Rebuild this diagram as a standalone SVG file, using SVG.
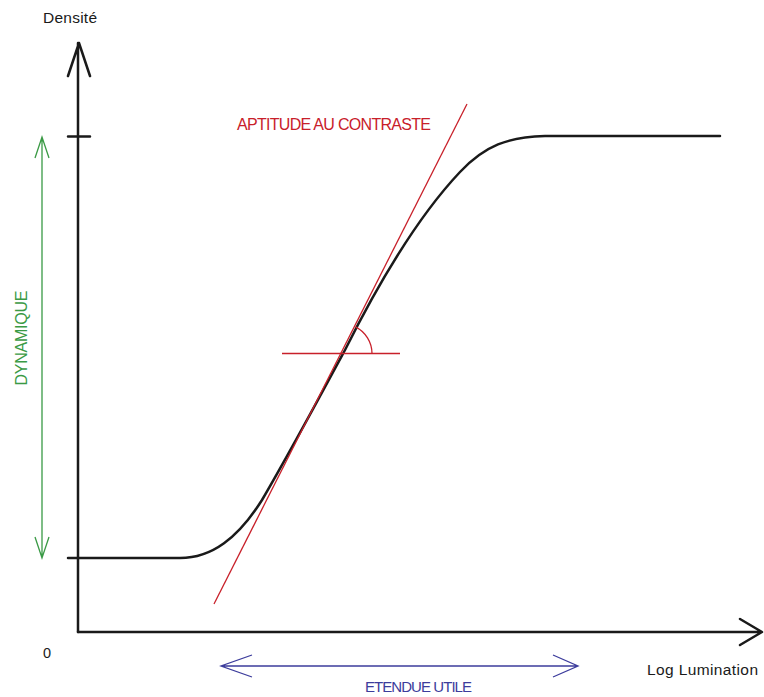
<svg xmlns="http://www.w3.org/2000/svg" width="764" height="697" viewBox="0 0 764 697">
<style>
text{font-family:"Liberation Sans",Arial,sans-serif}
.ax{fill:none;stroke:#1a1a1a;stroke-width:2.5;stroke-linecap:round;stroke-linejoin:round}
.red{fill:none;stroke:#c8202a;stroke-width:1.3}
.grn{fill:none;stroke:#3a9a45;stroke-width:1.3}
.blu{fill:none;stroke:#3c3c9c;stroke-width:1.3}
</style>
<rect width="764" height="697" fill="#fff"/>
<g id="axes">
<path class="ax" d="M78,632 V43 M68,76 L79,43 L90,76"/>
<path class="ax" d="M78,632 H761 M740,619 L762,632 L740,645"/>
<path class="ax" stroke-width="1.5" d="M68,136.5 H90 M68,558 H78"/>
<text x="43" y="23" font-size="15.5" fill="#1a1a1a" textLength="54">Densité</text>
<text x="43" y="658" font-size="14.5" fill="#1a1a1a">0</text>
<text x="647" y="675" font-size="15.5" fill="#1a1a1a" textLength="111">Log Lumination</text>
</g>
<g id="curve">
<path class="ax" stroke-width="3" d="M78,558 L180,558 C212,558 238,538 262,500 C290,452 318,400 345,350 C370,300 410,225 460,172 C485,145.5 508,137 545,136 L720,136"/>
</g>
<g id="tangent">
<path class="red" d="M214,604 L467,104"/>
<path class="red" d="M282,353.5 H400"/>
<path class="red" d="M372,353.5 A30,30 0 0 0 355.5,326.8"/>
<text x="237" y="130" font-size="16" fill="#c8202a" textLength="194">APTITUDE AU CONTRASTE</text>
</g>
<g id="dynamique">
<path class="grn" d="M42,137 V557 M35,158 L42,137 L49,158 M35,537 L42,558 L49,537"/>
<text transform="translate(27,338) rotate(-90)" text-anchor="middle" font-size="16" fill="#3a9a45" textLength="95">DYNAMIQUE</text>
</g>
<g id="etendue">
<path class="blu" d="M222,666 H577 M252,655 L221,666 L252,677 M553,655 L578,666 L553,677"/>
<text x="365" y="692" font-size="15" fill="#3c3c9c" textLength="107">ETENDUE UTILE</text>
</g>
</svg>
